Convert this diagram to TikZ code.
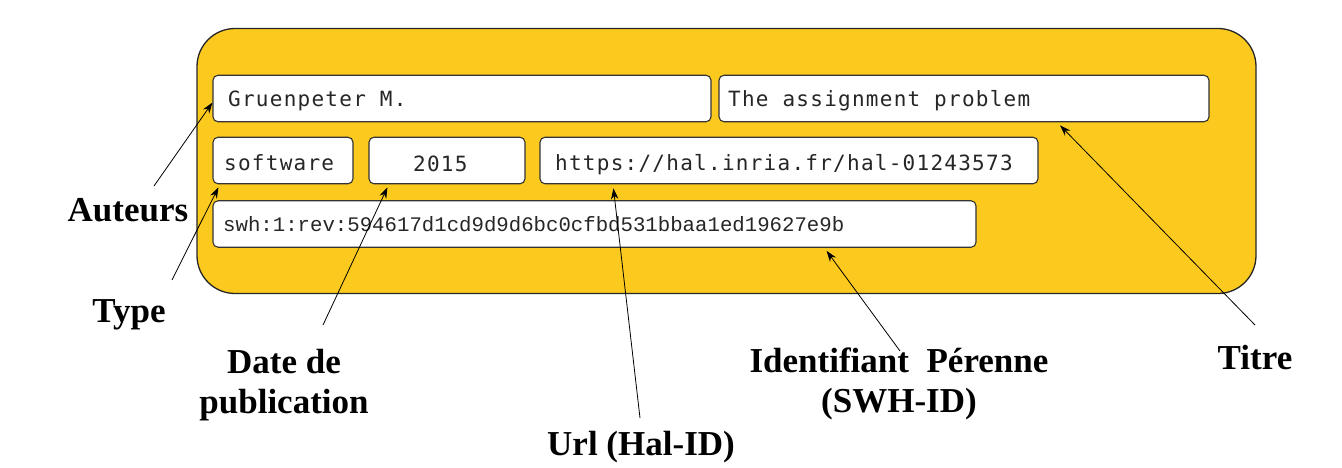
\documentclass[tikz,border=0pt]{standalone}
\usepackage{fontspec}
\setmainfont{Liberation Serif}
\newfontfamily\monof[LetterSpace=6]{DejaVu Sans Mono}
\newfontfamily\swhf{Liberation Mono}
\usetikzlibrary{arrows.meta,calc}
\definecolor{panel}{HTML}{FCCA1E}
\begin{document}
\begin{tikzpicture}[x=1pt,y=-1pt,
  field/.style={draw=black!80,line width=1.1pt,fill=white,rounded corners=5pt,inner sep=0pt,minimum height=46.5pt},
  ftext/.style={anchor=base west,inner sep=0pt,font=\monof\fontsize{21}{25}\selectfont,text=black!85},
  lab/.style={inner sep=0pt,font=\bfseries\fontsize{35}{39.5}\selectfont,align=center},
  ptr/.style={line width=0.8pt,-{Stealth[length=11pt,width=7.5pt]}}]
\useasboundingbox (0,0) rectangle (1342,467);
% panel
\node[draw=black!85,line width=1.3pt,fill=panel,rounded corners=38pt,minimum width=1059pt,minimum height=265pt,inner sep=0pt] (panel) at (726.5,161) {};
% fields
\node[field,minimum width=498pt] (gru) at (462,98.5) {};
\node[field,minimum width=490pt] (title) at (964,98.5) {};
\node[field,minimum width=140pt] (soft) at (283,160.5) {};
\node[field,minimum width=156pt] (yr) at (447,160.5) {};
\node[field,minimum width=498pt] (url) at (789,160.5) {};
\node[field,minimum width=763pt] (swh) at (594.5,224) {};
% field texts
\node[ftext] (tgru) at (228,106) {Gruenpeter M.};
\node[ftext] (ttitle) at (728,106) {The assignment problem};
\node[ftext] (tsoft) at (224,170) {software};
\node[ftext] (tyr) at (413,171) {2015};
\node[ftext] (turl) at (555,170) {https://hal.inria.fr/hal-01243573};
\node[ftext,font=\swhf\fontsize{20.7}{24}\selectfont] (tswh) at (223,231) {swh:1:rev:594617d1cd9d9d6bc0cfbd531bbaa1ed19627e9b};
% labels
\node[lab,anchor=base] (auteurs) at (128,221) {Auteurs};
\node[lab,anchor=base] (type) at (129,322) {Type};
\node[lab] (date) at (284,385) {Date de\\publication};
\node[lab,anchor=base] (urllab) at (641,455) {Url (Hal-ID)};
\node[lab] (ident) at (899,384) {Identifiant\ \ Pérenne\\(SWH-ID)};
\node[lab,anchor=base] (titre) at (1255,369) {Titre};
% connector start points
\coordinate (sA) at (154,186);
\coordinate (sT) at (172,280);
\coordinate (sD) at (323,325);
\coordinate (sU) at (640,418);
\coordinate (sI) at (900,351);
\coordinate (sR) at (1255,325);
% connectors
\draw[ptr] (sA) -- ($(gru.west)+(0,4)$);
\draw[ptr] (sT) -- ($(soft.south west)+(6,3)$);
\draw[ptr] (sD) -- ($(yr.south west)+(19,3)$);
\draw[ptr] (sU) -- ($(url.south west)+(74,4)$);
\draw[ptr] (sI) -- ($(swh.south east)+(-150,3)$);
\draw[ptr] (sR) -- ($(title.south)+(96,3)$);
\end{tikzpicture}
\end{document}
